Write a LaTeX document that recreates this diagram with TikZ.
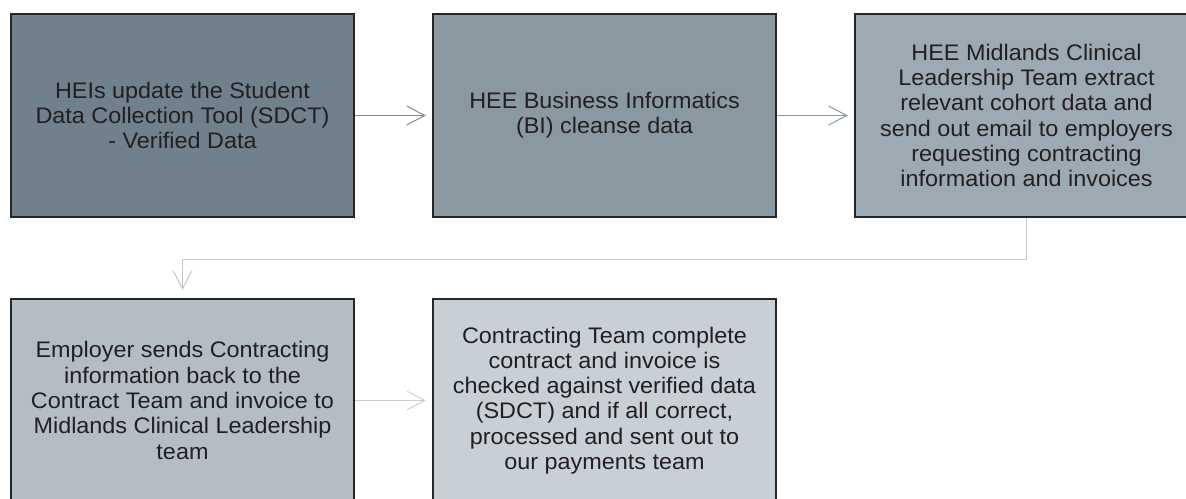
\documentclass[tikz,border=0pt]{standalone}
\usepackage{fontspec}
\setmainfont{Liberation Sans}[FakeStretch=1.04]
\usetikzlibrary{arrows.meta, positioning}
\usepackage{xcolor}

\definecolor{stepA}{RGB}{112,128,141}
\definecolor{stepB}{RGB}{138,152,162}
\definecolor{stepC}{RGB}{158,170,179}
\definecolor{stepD}{RGB}{180,189,196}
\definecolor{stepE}{RGB}{200,207,213}
\definecolor{boxline}{RGB}{38,38,38}
\definecolor{boxtext}{RGB}{35,31,32}

\begin{document}
\begin{tikzpicture}[
x=1pt, y=-1pt,
>={Straight Barb[length=18pt,width=19pt]},
box/.style={draw=boxline, line width=2.5pt, minimum width=343pt, minimum height=203pt,
  inner sep=0pt, align=center, text=boxtext, font=\fontsize{22.5}{25.3}\selectfont},
flow/.style={->, line width=1pt, shorten >=6pt},
]
\useasboundingbox (0,0) rectangle (1186,498);

% nodes
\node[box, fill=stepA] (HEI) at (182.5,115.5) {HEIs update the Student\\Data Collection Tool (SDCT)\\- Verified Data};
\node[box, fill=stepB] (BI) at (604.5,115.5) {HEE Business Informatics\\(BI) cleanse data};
\node[box, fill=stepC] (CLT) at (1026.5,115.5) {HEE Midlands Clinical\\Leadership Team extract\\relevant cohort data and\\send out email to employers\\requesting contracting\\information and invoices};
\node[box, fill=stepD] (EMP) at (182.5,400.5) {Employer sends Contracting\\information back to the\\Contract Team and invoice to\\Midlands Clinical Leadership\\team};
\node[box, fill=stepE] (CT) at (604.5,400.5) {Contracting Team complete\\contract and invoice is\\checked against verified data\\(SDCT) and if all correct,\\processed and sent out to\\our payments team};

% arrows
\draw[flow, color=stepA!90!white] (HEI) -- (BI);
\draw[flow, color=stepB] (BI) -- (CLT);
\draw[flow, color=stepD!85!white, shorten >=8pt] (CLT.south) -- ++(0,41) -| (EMP.north);
\draw[flow, color=stepE] (EMP) -- (CT);
\end{tikzpicture}
\end{document}
